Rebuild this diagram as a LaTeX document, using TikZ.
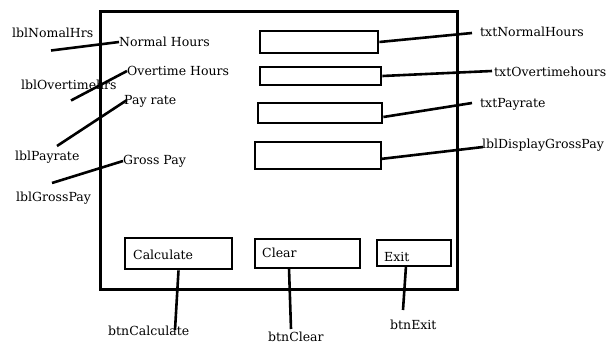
\documentclass[tikz,border=0pt]{standalone}
\usepackage{fontspec}
\setmainfont{DejaVu Serif}
\usetikzlibrary{calc}
\begin{document}
\begin{tikzpicture}[x=1pt,y=-1pt,
  txt/.style={anchor=west,inner sep=0pt,font=\fontsize{12.5}{14}\selectfont},
  box/.style={draw,line width=2.8pt,inner sep=0pt},
  conn/.style={line width=2.6pt}]
\useasboundingbox (0,0) rectangle (611,345);
% form frame
\node[box,line width=3pt,minimum width=357pt,minimum height=277pt] (frame) at (278.5,150.5) {};
% input boxes
\node[box,minimum width=118pt,minimum height=22pt] (tnh) at (319,42) {};
\node[box,minimum width=121pt,minimum height=18pt] (toh) at (320.5,76) {};
\node[box,minimum width=124pt,minimum height=20pt] (tpr) at (320,113) {};
\node[box,minimum width=126pt,minimum height=27pt] (tgp) at (318,155.5) {};
% buttons
\node[box,minimum width=107pt,minimum height=31pt] (bcalc) at (178.5,253.5) {};
\node[box,minimum width=105pt,minimum height=29pt] (bclr) at (307.5,253.5) {};
\node[box,minimum width=74pt,minimum height=26pt] (bexit) at (414,253) {};
\node[txt] (tcalc) at (133,255) {Calculate};
\node[txt] (tclr) at (262,253) {Clear};
\node[txt] (texit) at (384,257) {Exit};
% form labels
\node[txt] (nh) at (119,42) {Normal Hours};
\node[txt] (oh) at (127,71) {Overtime Hours};
\node[txt] (pr) at (124,101) {Pay rate};
\node[txt] (gp) at (123,161) {Gross Pay};
% annotation names
\node[txt] (albnh) at (12,33) {lblNomalHrs};
\node[txt] (alboh) at (21,85) {lblOvertimehrs};
\node[txt] (albpr) at (15,157) {lblPayrate};
\node[txt] (albgp) at (16,198) {lblGrossPay};
\node[txt] (atnh) at (480,32) {txtNormalHours};
\node[txt] (atoh) at (494,72) {txtOvertimehours};
\node[txt] (atpr) at (480,104) {txtPayrate};
\node[txt] (atgp) at (482,145) {lblDisplayGrossPay};
\node[txt] (abcalc) at (108,331) {btnCalculate};
\node[txt] (abclr) at (268,336.5) {btnClear};
\node[txt] (abexit) at (390,325) {btnExit};
% free ends of connectors
\coordinate (c1) at (51,50.5);
\coordinate (c2) at (71,100.5);
\coordinate (c3) at (57,146);
\coordinate (c4) at (52,183);
\coordinate (c5) at (472,33);
\coordinate (c6) at (492,71);
\coordinate (c7) at (472,103);
\coordinate (c8) at (483,147);
\coordinate (c9) at (175,330);
\coordinate (c10) at (291,329);
\coordinate (c11) at (403,310);
\coordinate (s10) at (289,268);
\coordinate (s11) at (406,266);
% connectors
\draw[conn] (c1) -- (nh.west);
\draw[conn] (c2) -- (oh.west);
\draw[conn] (c3) -- ($(pr.west)+(3,-1)$);
\draw[conn] (c4) -- (gp.west);
\draw[conn] (tnh.east) -- (c5);
\draw[conn] (toh.east) -- (c6);
\draw[conn] ($(tpr.east)+(0,4)$) -- (c7);
\draw[conn] ($(tgp.east)+(-2,3.5)$) -- (c8);
\draw[conn] (bcalc.south) -- (c9);
\draw[conn] (s10) -- (c10);
\draw[conn] (s11) -- (c11);
\end{tikzpicture}
\end{document}
